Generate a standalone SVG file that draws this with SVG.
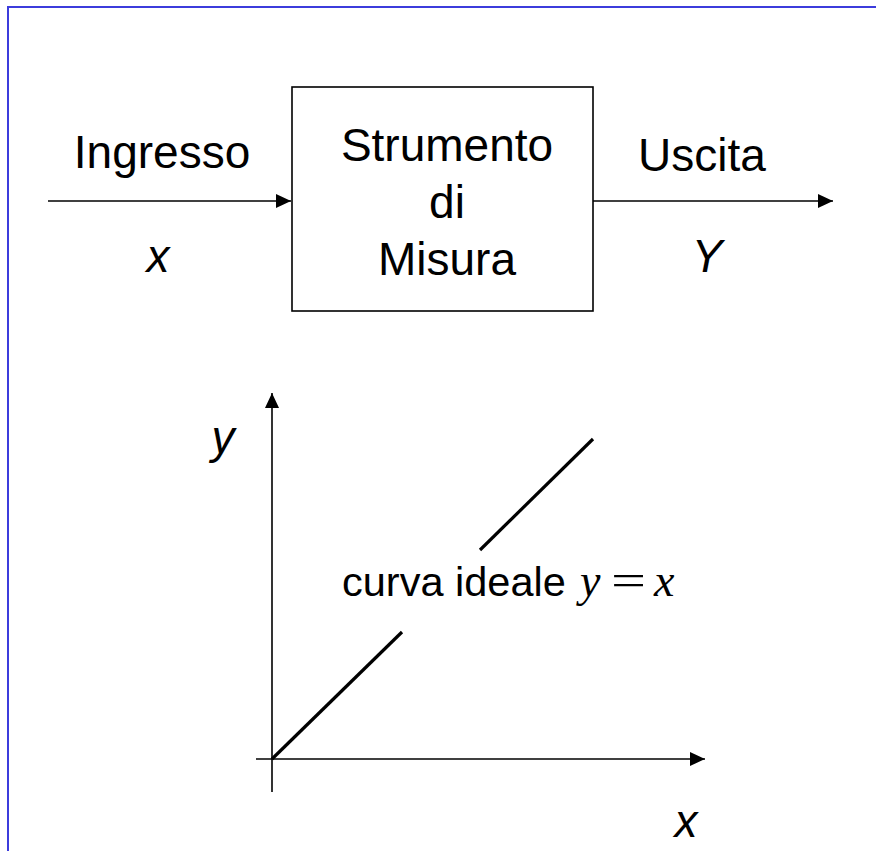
<svg xmlns="http://www.w3.org/2000/svg" width="876" height="851" viewBox="0 0 876 851">
<style>
.t{font-family:"Liberation Sans",Arial,sans-serif;font-size:46px;fill:#000;text-anchor:middle}
.i{font-style:italic}
.m{font-family:"Liberation Serif","Times New Roman",serif;font-size:46px;fill:#000}
.ln{stroke:#000;stroke-width:1.6;fill:none}
</style>
<defs>
<marker id="ah" markerUnits="userSpaceOnUse" markerWidth="16" markerHeight="14" refX="15" refY="7" orient="auto">
<path d="M0,0 L15,7 L0,14 z" fill="#000"/>
</marker>
</defs>
<rect x="0" y="0" width="876" height="851" fill="#fff"/>
<rect x="8" y="7" width="900" height="900" fill="none" stroke="#3c3cdc" stroke-width="2"/>
<g id="connectors">
<line class="ln" x1="48" y1="201" x2="291" y2="201" marker-end="url(#ah)"/>
<line class="ln" x1="593" y1="201" x2="833" y2="201" marker-end="url(#ah)"/>
</g>
<g id="input-label">
<text class="t" x="162" y="168">Ingresso</text>
<text class="t i" x="158" y="272">x</text>
</g>
<g id="instrument">
<rect x="292" y="87" width="301" height="224" fill="#fff" stroke="#000" stroke-width="1.6"/>
<text class="t" x="447" y="161">Strumento</text>
<text class="t" x="447" y="218">di</text>
<text class="t" x="447" y="275">Misura</text>
</g>
<g id="output-label">
<text class="t" x="702" y="171">Uscita</text>
<text class="t i" x="707" y="272">Y</text>
</g>
<g id="graph">
<line class="ln" x1="272" y1="792" x2="272" y2="393" marker-end="url(#ah)"/>
<line class="ln" x1="256" y1="759" x2="705" y2="759" marker-end="url(#ah)"/>
<line x1="272" y1="759" x2="402" y2="632" stroke="#000" stroke-width="3.2"/>
<line x1="480" y1="550" x2="593" y2="439" stroke="#000" stroke-width="3.2"/>
<text class="t i" x="223" y="453">y</text>
<text class="t i" x="686" y="837">x</text>
<text class="t" x="342" y="596" style="text-anchor:start;font-size:41.5px">curva ideale</text>
<text class="m" x="580" y="596" font-style="italic">y</text>
<text class="m" transform="translate(611,596) scale(1.35,1)">=</text>
<text class="m" x="654" y="596" font-style="italic">x</text>
</g>
</svg>
